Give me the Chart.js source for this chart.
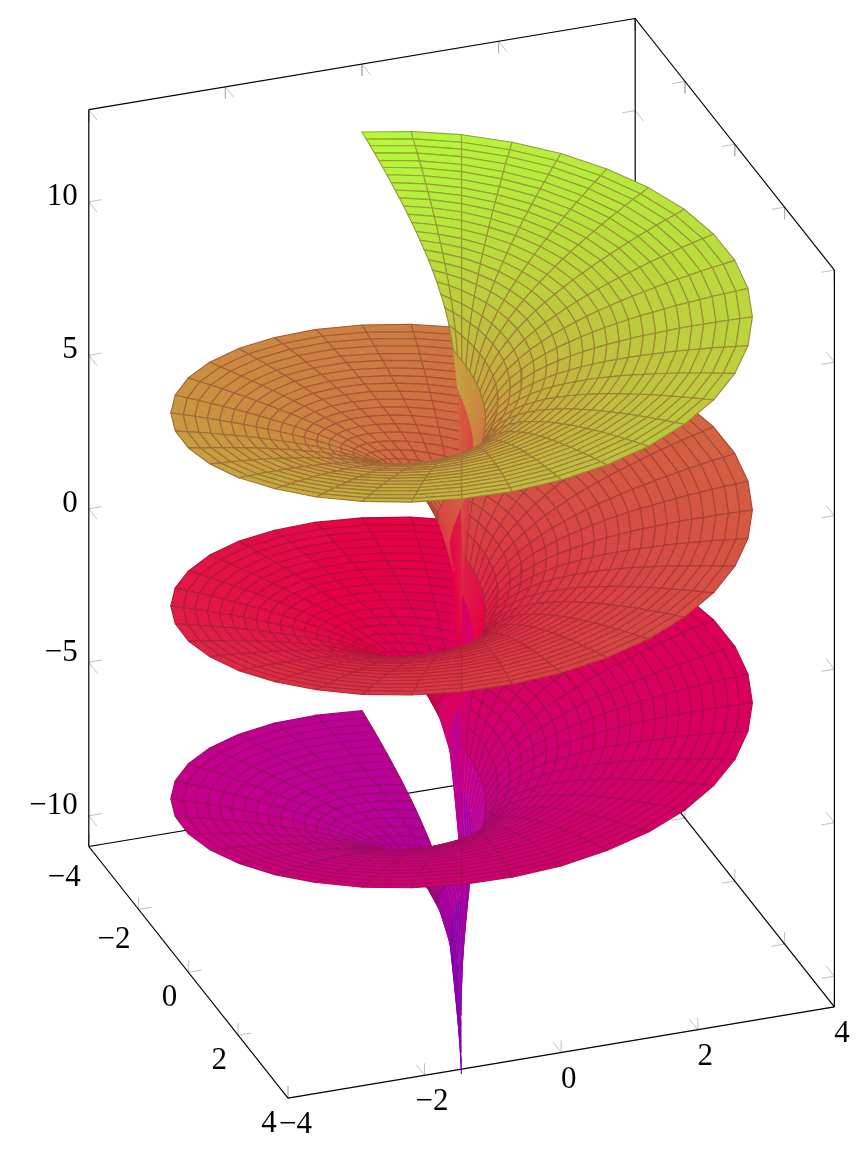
<!DOCTYPE html>
<html>
<head>
<meta charset="utf-8">
<script src="https://cdn.jsdelivr.net/npm/chart.js@4/dist/chart.umd.min.js"></script>
<style>
  html, body { margin: 0; padding: 0; background: #fff; }
  #wrap { position: relative; width: 864px; height: 1162px; }
</style>
</head>
<body>
<div id="wrap"><canvas id="chart"></canvas></div>
<script>
// Ticks as printed on the axes
const xTicks = [-4, -2, 0, 2, 4]
const yTicks = [-4, -2, 0, 2, 4]
const zTicks = [-10, -5, 0, 5, 10]
const zRange = [-11, 13]

// Sheet: each ring is a distance from the axis and how far it sinks below the rim
const ringRadius = [4, 3.83, 3.67, 3.5, 3.33, 3.17, 3, 2.83, 2.67, 2.5, 2.33, 2.17, 2, 1.83, 1.67, 1.5, 1.33, 1.17, 1, 0.83, 0.67, 0.5, 0.33, 0.17, 0.01]
const ringDrop = [0, -0.06, -0.11, -0.17, -0.24, -0.3, -0.37, -0.45, -0.53, -0.61, -0.7, -0.8, -0.9, -1.02, -1.14, -1.28, -1.43, -1.6, -1.8, -2.05, -2.32, -2.72, -3.35, -4.4, -7.75]

// Each spoke: bearing in degrees, height of its rim point
const spokeBearing = [
  -90, -100, -110, -120, -130, -140, -150, -160, -170, -180, -190, -200, -210, -220, -230, -240, -250, -260,
  -270, -280, -290, -300, -310, -320, -330, -340, -350, -360, -370, -380, -390, -400, -410, -420, -430, -440,
  -450, -460, -470, -480, -490, -500, -510, -520, -530, -540, -550, -560, -570, -580, -590, -600, -610, -620,
  -630, -640, -650, -660, -670, -680, -690, -700, -710, -720, -730, -740, -750, -760, -770, -780, -790, -800,
  -810, -820, -830, -840, -850, -860, -870, -880, -890, -900, -910, -920, -930, -940, -950, -960, -970, -980,
  -990, -1000, -1010, -1020, -1030, -1040, -1050, -1060, -1070, -1080, -1090, -1100, -1110, -1120, -1130, -1140, -1150, -1160, -1170
]
const spokeRim = [
  -8.06, -7.89, -7.71, -7.54, -7.36, -7.19, -7.01, -6.84, -6.66, -6.49,
  -6.32, -6.14, -5.97, -5.79, -5.62, -5.44, -5.27, -5.09, -4.92, -4.74,
  -4.57, -4.4, -4.22, -4.05, -3.87, -3.7, -3.52, -3.35, -3.17, -3,
  -2.82, -2.65, -2.48, -2.3, -2.13, -1.95, -1.78, -1.6, -1.43, -1.25,
  -1.08, -0.91, -0.73, -0.56, -0.38, -0.21, -0.03, 0.14, 0.32, 0.49,
  0.66, 0.84, 1.01, 1.19, 1.36, 1.54, 1.71, 1.89, 2.06, 2.24,
  2.41, 2.58, 2.76, 2.93, 3.11, 3.28, 3.46, 3.63, 3.81, 3.98,
  4.16, 4.33, 4.5, 4.68, 4.85, 5.03, 5.2, 5.38, 5.55, 5.73,
  5.9, 6.08, 6.25, 6.42, 6.6, 6.77, 6.95, 7.12, 7.3, 7.47,
  7.65, 7.82, 7.99, 8.17, 8.34, 8.52, 8.69, 8.87, 9.04, 9.22,
  9.39, 9.57, 9.74, 9.91, 10.09, 10.26, 10.44, 10.61, 10.79
]

// Colour by height
const colorZ = [-15.7, -8, -2, 10.8]
const colorR = [125, 190, 230, 180]
const colorG = [0, 0, 0, 252]
const colorB = [175, 150, 70, 60]

// 3D axes onto the flat chart scales
const view = {
  origin: [461.6, 589],
  x: [68.3, -11.4, -22],
  y: [24.9, 31.45, 60.8],
  z: [0, -30.7, 15.9]
}

function project(x, y, z) {
  return {
    x: view.origin[0] + view.x[0] * x + view.y[0] * y + view.z[0] * z,
    y: view.origin[1] + view.x[1] * x + view.y[1] * y + view.z[1] * z
  }
}

function depth(x, y, z) {
  return view.x[2] * x + view.y[2] * y + view.z[2] * z
}

function colorAt(z) {
  let i = 0
  while (i < colorZ.length - 2 && z > colorZ[i + 1]) i++
  const t = Math.min(1, Math.max(0, (z - colorZ[i]) / (colorZ[i + 1] - colorZ[i])))
  const mix = (c) => c[i] + (c[i + 1] - c[i]) * t
  return [mix(colorR), mix(colorG), mix(colorB)]
}

const css = (c) => `rgb(${c.map(Math.round).join(", ")})`
// Facet lines are the cell colour pulled towards a dull brown
const facet = (c) => [0.62 * c[0] + 38, 0.62 * c[1] + 12, 0.62 * c[2] + 15]

function meshPoint(s, r) {
  const a = spokeBearing[s] * Math.PI / 180
  return [ringRadius[r] * Math.cos(a), ringRadius[r] * Math.sin(a), spokeRim[s] + ringDrop[r]]
}

// Box edges and tick marks sit behind the surface
function segment(a, b, color, width) {
  return {
    data: [project(...a), project(...b)],
    borderColor: color,
    borderWidth: width,
    showLine: true,
    pointRadius: 0,
    fill: false
  }
}

const [x0, x1] = [xTicks[0], xTicks[4]]
const [y0, y1] = [yTicks[0], yTicks[4]]
const [z0, z1] = zRange
const tickColor = "#b0b0b0"
const tickX = 0.19, tickY = 0.33, tickZ = 0.39

const backLines = []
function tick(p, dx, dy, dz) {
  if (dx) backLines.push(segment(p, [p[0] + dx, p[1], p[2]], tickColor, 0.8))
  if (dy) backLines.push(segment(p, [p[0], p[1] + dy, p[2]], tickColor, 0.8))
  if (dz) backLines.push(segment(p, [p[0], p[1], p[2] + dz], tickColor, 0.8))
}
xTicks.forEach((v) => {
  tick([v, y0, z1], 0, tickY, -tickZ)
  tick([v, y1, z0], 0, -tickY, tickZ)
  tick([v, y0, z0], 0, tickY, tickZ)
})
yTicks.forEach((v) => {
  tick([x1, v, z1], -tickX, 0, -tickZ)
  tick([x0, v, z0], tickX, 0, tickZ)
  tick([x1, v, z0], -tickX, 0, tickZ)
})
zTicks.forEach((v) => {
  tick([x0, y0, v], tickX, tickY, 0)
  tick([x1, y0, v], -tickX, tickY, 0)
  tick([x1, y1, v], -tickX, -tickY, 0)
})
const boxEdges = [
  [[x0, y0, z0], [x0, y0, z1]], [[x1, y0, z0], [x1, y0, z1]], [[x1, y1, z0], [x1, y1, z1]],
  [[x0, y0, z1], [x1, y0, z1]], [[x1, y0, z1], [x1, y1, z1]],
  [[x0, y0, z0], [x1, y0, z0]], [[x1, y0, z0], [x1, y1, z0]],
  [[x0, y0, z0], [x0, y1, z0]], [[x0, y1, z0], [x1, y1, z0]]
]
boxEdges.forEach(([a, b]) => backLines.push(segment(a, b, "#000", 1.2)))

// One closed quad per mesh cell, sorted back to front
const cells = []
const stemStart = ringRadius.length - 3
for (let s = 0; s < spokeBearing.length - 1; s++) {
  for (let r = 0; r < ringRadius.length - 1; r++) {
    const corners = [meshPoint(s, r), meshPoint(s + 1, r), meshPoint(s + 1, r + 1), meshPoint(s, r + 1)]
    const mid = [0, 1, 2].map((k) => corners.reduce((sum, c) => sum + c[k], 0) / 4)
    const stem = r >= stemStart
    // the long strips of the stem take the colour of their lower end and show no facet lines
    const color = colorAt(stem ? Math.min(...corners.map((c) => c[2])) : mid[2])
    cells.push({
      rank: depth(...mid),
      dataset: {
        data: [...corners, corners[0]].map((c) => project(...c)),
        backgroundColor: css(color),
        borderColor: css(stem ? color : facet(color)),
        borderWidth: stem ? 0.5 : 1.15,
        showLine: true,
        pointRadius: 0,
        fill: "shape"
      }
    })
  }
}
cells.sort((a, b) => a.rank - b.rank)

// Chart.js paints the last dataset first
const datasets = [...backLines, ...cells.map((c) => c.dataset)].reverse()

const fmt = (v) => String(v).replace("-", "\u2212")

const tickLabels = {
  id: "tickLabels",
  afterDatasetsDraw(chart) {
    const { ctx, scales } = chart
    const put = (text, p, dx, dy, align) => {
      ctx.textAlign = align
      ctx.fillText(text, scales.x.getPixelForValue(p.x) + dx, scales.y.getPixelForValue(p.y) + dy)
    }
    ctx.save()
    ctx.font = '31px "Liberation Serif"'
    ctx.fillStyle = "#000"
    ctx.textBaseline = "alphabetic"
    zTicks.forEach((v) => put(fmt(v), project(x0, y0, v), -11, v < 0 ? -1.5 : 3, "right"))
    yTicks.forEach((v) => {
      if (v < 0) put(fmt(v), project(x0, v, z0), -24.5, 39, "center")
      else put(fmt(v), project(x0, v, z0), -19, 33.5, "center")
    })
    xTicks.forEach((v) => put(fmt(v), project(v, y1, z0), 7.5, 35, "center"))
    ctx.restore()
  }
}

new Chart(document.getElementById("chart"), {
  type: "scatter",
  data: { datasets },
  plugins: [tickLabels],
  options: {
    responsive: true,
    maintainAspectRatio: false,
    animation: false,
    events: [],
    layout: { padding: 0 },
    plugins: { legend: { display: false }, tooltip: { enabled: false } },
    scales: {
      x: { type: "linear", min: 0, max: 864, display: false },
      y: { type: "linear", min: 0, max: 1162, reverse: true, display: false }
    }
  }
})
</script>
</body>
</html>
